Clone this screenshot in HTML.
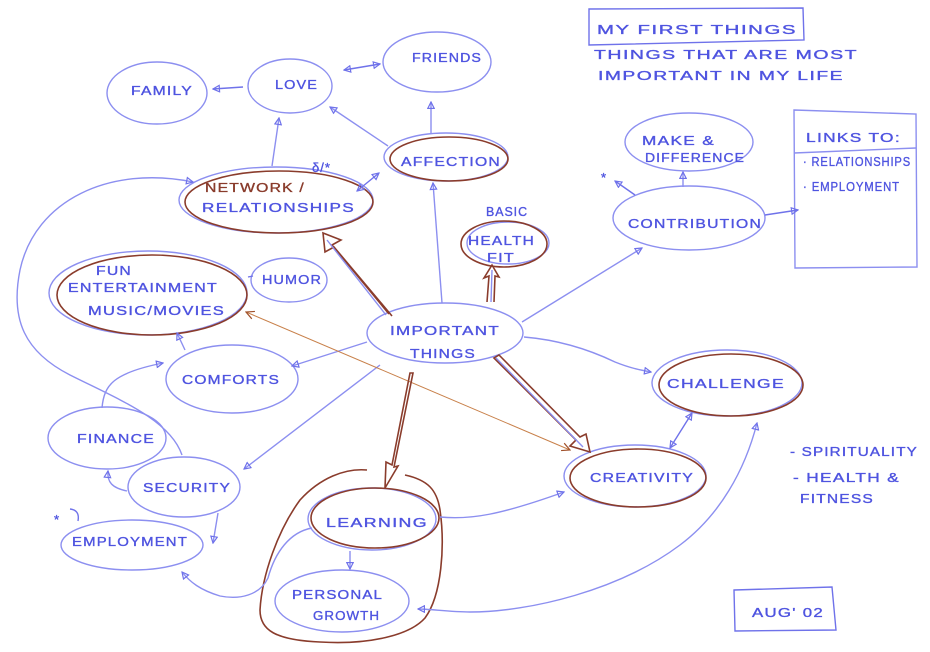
<!DOCTYPE html>
<html><head><meta charset="utf-8"><style>
html,body{margin:0;padding:0;background:#fff;}
svg{display:block;}
text{font-family:"Liberation Sans",sans-serif;fill:#4f54e0;stroke:#4f54e0;stroke-width:0.35;font-size:13px;letter-spacing:1px;}
.b{fill:none;stroke:#8c8ff0;stroke-width:1.4;}
.bd{fill:none;stroke:#6f72ea;stroke-width:1.4;}
.r{fill:none;stroke:#8a3c2c;stroke-width:1.6;}
.o{fill:none;stroke:#c8804a;stroke-width:1;}
</style></head><body>
<svg width="930" height="652" viewBox="0 0 930 652" xmlns="http://www.w3.org/2000/svg">
<defs>
<marker id="a" viewBox="0 0 10 10" refX="9" refY="5" markerWidth="8" markerHeight="8" orient="auto-start-reverse" markerUnits="userSpaceOnUse">
<path d="M1,1 L9,5 L1,9 Z" fill="none" stroke="#6f72ea" stroke-width="1.5"/>
</marker>
<marker id="ao" viewBox="0 0 10 10" refX="9" refY="5" markerWidth="10" markerHeight="10" orient="auto-start-reverse" markerUnits="userSpaceOnUse">
<path d="M1,1 L9,5 L1,9" fill="none" stroke="#a0502a" stroke-width="1.2"/>
</marker>
</defs>

<!-- Title -->
<path class="bd" d="M589,9 L803,8 L804,40 L589,45 Z"/>
<text x="597" y="34" textLength="200" lengthAdjust="spacingAndGlyphs" font-size="15">MY FIRST THINGS</text>
<text x="594" y="59" textLength="264" lengthAdjust="spacingAndGlyphs">THINGS THAT ARE MOST</text>
<text x="598" y="80" textLength="246" lengthAdjust="spacingAndGlyphs">IMPORTANT IN MY LIFE</text>

<!-- LINKS box -->
<path class="b" d="M794,110 L916,114 L917,267 L795,268 Z"/>
<path class="b" d="M794,153 L916,148"/>
<text x="806" y="142" textLength="95" lengthAdjust="spacingAndGlyphs">LINKS TO:</text>
<text x="803" y="166" font-size="10" textLength="108" lengthAdjust="spacingAndGlyphs">· RELATIONSHIPS</text>
<text x="803" y="191" font-size="10" textLength="97" lengthAdjust="spacingAndGlyphs">· EMPLOYMENT</text>

<!-- Ellipses -->
<ellipse class="b" cx="157" cy="93" rx="50" ry="31"/>
<text x="131" y="95" textLength="62" lengthAdjust="spacingAndGlyphs">FAMILY</text>

<ellipse class="b" cx="290" cy="86" rx="42" ry="27"/>
<text x="275" y="89" textLength="43" lengthAdjust="spacingAndGlyphs">LOVE</text>

<ellipse class="b" cx="437" cy="62" rx="54" ry="30"/>
<text x="412" y="62" textLength="70" lengthAdjust="spacingAndGlyphs">FRIENDS</text>

<ellipse class="b" cx="446" cy="157" rx="62" ry="24"/>
<ellipse class="r" cx="449" cy="159" rx="59" ry="22"/>
<text x="401" y="166" textLength="100" lengthAdjust="spacingAndGlyphs">AFFECTION</text>

<ellipse class="b" cx="276" cy="200" rx="97" ry="33"/>
<ellipse class="r" cx="279" cy="202" rx="94" ry="31"/>
<text x="205" y="192" style="fill:#8a3c2c;stroke:#8a3c2c" textLength="100" lengthAdjust="spacingAndGlyphs">NETWORK /</text>
<text x="202" y="212" textLength="153" lengthAdjust="spacingAndGlyphs">RELATIONSHIPS</text>
<text x="312" y="172" font-size="12">δ/*</text>

<ellipse class="b" cx="148" cy="293" rx="99" ry="42"/>
<ellipse class="r" cx="152" cy="295" rx="95" ry="40"/>
<text x="96" y="275" textLength="36" lengthAdjust="spacingAndGlyphs">FUN</text>
<text x="68" y="292" textLength="150" lengthAdjust="spacingAndGlyphs">ENTERTAINMENT</text>
<text x="88" y="315" textLength="137" lengthAdjust="spacingAndGlyphs">MUSIC/MOVIES</text>

<ellipse class="b" cx="289" cy="280" rx="38" ry="22"/>
<text x="262" y="284" textLength="60" lengthAdjust="spacingAndGlyphs">HUMOR</text>

<ellipse class="b" cx="508" cy="243" rx="41" ry="21"/>
<ellipse class="r" cx="504" cy="244" rx="43" ry="23"/>
<text x="486" y="216" font-size="11" textLength="42" lengthAdjust="spacingAndGlyphs">BASIC</text>
<text x="468" y="245" textLength="67" lengthAdjust="spacingAndGlyphs">HEALTH</text>
<text x="487" y="262" textLength="28" lengthAdjust="spacingAndGlyphs">FIT</text>

<ellipse class="b" cx="445" cy="333" rx="78" ry="30"/>
<text x="390" y="335" textLength="110" lengthAdjust="spacingAndGlyphs">IMPORTANT</text>
<text x="410" y="358" textLength="66" lengthAdjust="spacingAndGlyphs">THINGS</text>

<ellipse class="b" cx="689" cy="142" rx="64" ry="29"/>
<text x="642" y="145" font-size="12" textLength="73" lengthAdjust="spacingAndGlyphs">MAKE &amp;</text>
<text x="645" y="162" font-size="12" textLength="100" lengthAdjust="spacingAndGlyphs">DIFFERENCE</text>

<ellipse class="b" cx="689" cy="218" rx="76" ry="32"/>
<text x="628" y="228" textLength="134" lengthAdjust="spacingAndGlyphs">CONTRIBUTION</text>

<ellipse class="b" cx="232" cy="379" rx="66" ry="34"/>
<text x="182" y="384" textLength="98" lengthAdjust="spacingAndGlyphs">COMFORTS</text>

<ellipse class="b" cx="107" cy="438" rx="59" ry="31"/>
<text x="77" y="443" textLength="78" lengthAdjust="spacingAndGlyphs">FINANCE</text>

<ellipse class="b" cx="184" cy="487" rx="56" ry="30"/>
<text x="143" y="492" textLength="88" lengthAdjust="spacingAndGlyphs">SECURITY</text>

<ellipse class="b" cx="132" cy="545" rx="71" ry="25"/>
<text x="72" y="546" textLength="116" lengthAdjust="spacingAndGlyphs">EMPLOYMENT</text>
<text x="54" y="524" font-size="12">*</text>
<path class="bd" d="M70,509 Q80,510 78,521"/>

<ellipse class="b" cx="372" cy="519" rx="64" ry="31"/>
<ellipse class="r" cx="375" cy="518" rx="64" ry="30"/>
<text x="326" y="527" textLength="102" lengthAdjust="spacingAndGlyphs">LEARNING</text>

<ellipse class="b" cx="342" cy="601" rx="67" ry="31"/>
<text x="292" y="599" textLength="91" lengthAdjust="spacingAndGlyphs">PERSONAL</text>
<text x="313" y="620" textLength="67" lengthAdjust="spacingAndGlyphs">GROWTH</text>

<path class="r" d="M367,470 C345,468 320,478 300,500 C278,530 262,575 260,610 C260,630 275,640 320,642 C370,645 410,635 425,618 C442,595 445,545 440,510 C437,490 428,480 405,475"/>

<ellipse class="b" cx="727" cy="383" rx="75" ry="33"/>
<ellipse class="r" cx="731" cy="385" rx="72" ry="31"/>
<text x="667" y="388" textLength="118" lengthAdjust="spacingAndGlyphs">CHALLENGE</text>

<ellipse class="b" cx="635" cy="476" rx="71" ry="31"/>
<ellipse class="r" cx="638" cy="478" rx="68" ry="29"/>
<text x="590" y="482" textLength="104" lengthAdjust="spacingAndGlyphs">CREATIVITY</text>

<!-- Notes -->
<text x="790" y="456" textLength="128" lengthAdjust="spacingAndGlyphs">- SPIRITUALITY</text>
<text x="793" y="482" textLength="107" lengthAdjust="spacingAndGlyphs">- HEALTH &amp;</text>
<text x="800" y="503" textLength="74" lengthAdjust="spacingAndGlyphs">FITNESS</text>
<path class="bd" d="M734,590 L832,587 L836,630 L735,631 Z"/>
<text x="752" y="617" textLength="72" lengthAdjust="spacingAndGlyphs">AUG' 02</text>

<!-- Connectors -->
<path class="bd" d="M243,87 L213,89" marker-end="url(#a)"/>
<path class="bd" d="M344,70 L380,64" marker-start="url(#a)" marker-end="url(#a)"/>
<path class="b" d="M431,134 L431,102" marker-end="url(#a)"/>
<path class="b" d="M388,146 L330,107" marker-end="url(#a)"/>
<path class="b" d="M272,166 L279,118" marker-end="url(#a)"/>
<path class="bd" d="M357,191 L379,173" marker-start="url(#a)" marker-end="url(#a)"/>
<path class="b" d="M442,303 L433,183" marker-end="url(#a)"/>
<path class="b" d="M182,455 C170,420 120,400 70,375 C25,352 10,320 20,270 C35,200 110,165 193,182" marker-end="url(#a)"/>
<path class="bd" d="M248,277 L253,276"/>
<path class="b" d="M683,187 L683,172" marker-end="url(#a)"/>
<path class="bd" d="M635,195 L615,181" marker-end="url(#a)"/>
<text x="601" y="182" font-size="12">*</text>
<path class="bd" d="M765,215 L798,210" marker-end="url(#a)"/>
<path class="b" d="M522,322 L642,248" marker-end="url(#a)"/>
<path class="b" d="M185,350 L177,333" marker-end="url(#a)"/>
<path class="b" d="M367,342 L292,366" marker-end="url(#a)"/>
<path class="b" d="M102,408 C104,385 113,373 163,363" marker-end="url(#a)"/>
<path class="b" d="M127,491 C112,488 107,482 108,471" marker-end="url(#a)"/>
<path class="b" d="M380,365 L244,469" marker-end="url(#a)"/>
<path class="b" d="M218,513 L213,543" marker-end="url(#a)"/>
<path class="b" d="M312,528 C290,532 275,552 268,578 C260,595 240,600 220,596 C200,590 190,582 182,572" marker-end="url(#a)"/>
<path class="b" d="M350,551 L350,569" marker-end="url(#a)"/>
<path class="b" d="M757,423 C745,470 720,515 680,545 C620,590 530,612 470,612 C450,612 430,609 418,609" marker-start="url(#a)" marker-end="url(#a)"/>
<path class="b" d="M440,517 C470,520 500,515 564,492" marker-end="url(#a)"/>
<path class="b" d="M524,337 C560,340 590,350 615,362 C630,368 640,370 651,372" marker-end="url(#a)"/>
<path class="bd" d="M670,448 L692,413" marker-start="url(#a)" marker-end="url(#a)"/>
<path class="o" d="M246,312 L570,450" marker-start="url(#ao)" marker-end="url(#ao)"/>

<!-- Hollow double arrows -->
<path class="r" d="M389,314 L332,245 L341,240 L323,233 L325,252 L334,247 L392,316"/>
<path class="b" d="M386,315 L327,240"/>
<path class="r" d="M487,302 L489,276 L484,278 L492,265 L499,277 L495,276 L494,302"/>
<path class="b" d="M491,302 L492,270"/>
<path class="r" d="M410,373 L392,465 L386,462 L385,488 L398,466 L394,467 L413,373 Z"/>
<path class="r" d="M494,358 L576,440 L570,446 L590,452 L586,434 L580,437 L499,355 Z"/>
<path class="b" d="M496,358 L583,447"/>
</svg>
</body></html>
